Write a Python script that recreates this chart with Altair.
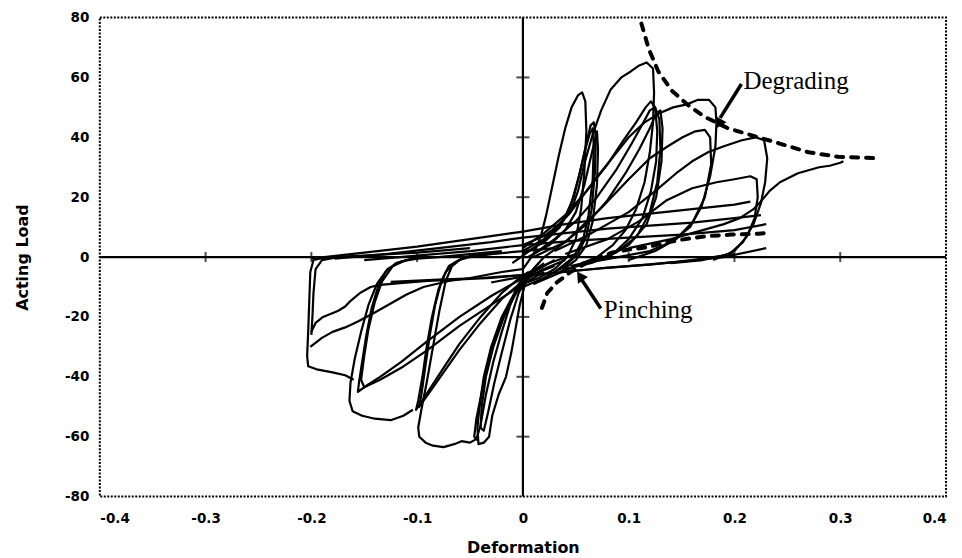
import altair as alt
import pandas as pd

x_ticks = [-0.4, -0.3, -0.2, -0.1, 0.0, 0.1, 0.2, 0.3, 0.4]
y_ticks = [-80, -60, -40, -20, 0, 20, 40, 60, 80]
x_minor = [-0.3, -0.2, -0.1, 0.1, 0.2, 0.3]
y_minor = [-60, -40, -20, 20, 40, 60]

# ---- positive-side loops (deformation, load) ----
p1 = [(0.0, -4), (0.01, 1), (0.017, 7), (0.022, 14), (0.028, 24), (0.034, 34), (0.04, 43), (0.046, 50),
      (0.052, 54), (0.056, 55), (0.059, 52), (0.06, 42), (0.058, 28), (0.055, 16), (0.05, 6), (0.042, 0),
      (0.03, -4), (0.015, -7), (0.0, -9)]
p2a = [(-0.01, -2), (0.01, 3), (0.025, 7), (0.038, 12), (0.048, 20), (0.055, 30), (0.06, 38), (0.064, 44),
       (0.067, 45), (0.069, 40), (0.068, 28), (0.065, 16), (0.06, 7), (0.052, 1), (0.04, -3), (0.02, -7), (0.0, -10)]
p2b = [(0.0, 1), (0.02, 5), (0.035, 10), (0.045, 17), (0.053, 27), (0.059, 36), (0.063, 41), (0.066, 43),
       (0.067, 37), (0.066, 26), (0.062, 14), (0.057, 6), (0.048, 0), (0.03, -5), (0.01, -9)]
p2c = [(0.005, 0), (0.025, 4), (0.04, 9), (0.05, 15), (0.058, 24), (0.064, 33), (0.068, 39), (0.07, 42),
       (0.071, 36), (0.07, 24), (0.066, 12), (0.06, 4), (0.05, -1), (0.035, -5)]
p3 = [(0.0, 4), (0.02, 7), (0.035, 11), (0.045, 15), (0.052, 22), (0.058, 31), (0.066, 41), (0.074, 49),
      (0.083, 56), (0.093, 60), (0.102, 62), (0.11, 64), (0.117, 65), (0.123, 63), (0.124, 55), (0.123, 45),
      (0.12, 35), (0.115, 25), (0.107, 16), (0.097, 9), (0.085, 4), (0.07, 0), (0.05, -3), (0.03, -6), (0.01, -9)]
p4a = [(0.0, 3), (0.02, 8), (0.04, 14), (0.06, 22), (0.08, 31), (0.095, 39), (0.107, 45), (0.116, 50),
       (0.121, 52), (0.125, 50), (0.127, 42), (0.126, 32), (0.121, 22), (0.113, 13), (0.1, 6), (0.085, 1),
       (0.065, -2), (0.04, -4)]
p4b = [(0.01, 1), (0.03, 6), (0.05, 12), (0.07, 20), (0.088, 29), (0.103, 38), (0.114, 45), (0.12, 49),
       (0.125, 50), (0.129, 46), (0.13, 36), (0.127, 25), (0.12, 15), (0.108, 7), (0.09, 2), (0.07, -1), (0.045, -3)]
p4c = [(0.02, 0), (0.04, 5), (0.06, 11), (0.08, 19), (0.097, 28), (0.11, 36), (0.12, 43), (0.126, 48),
       (0.13, 49), (0.132, 43), (0.131, 32), (0.126, 20), (0.117, 11), (0.1, 4), (0.08, 0), (0.055, -2)]
p5 = [(0.0, 2), (0.02, 6), (0.045, 15), (0.073, 28), (0.1, 40), (0.115, 45), (0.129, 48), (0.142, 50),
      (0.155, 51), (0.165, 52.5), (0.176, 52.5), (0.182, 50), (0.183, 45), (0.182, 37), (0.177, 27),
      (0.169, 17), (0.158, 10), (0.14, 5), (0.12, 2), (0.09, 0), (0.06, -2)]
p6 = [(0.01, 0), (0.04, 5), (0.073, 16), (0.1, 26), (0.12, 33), (0.137, 37), (0.151, 40), (0.163, 42),
      (0.172, 42.5), (0.177, 40), (0.178, 31), (0.172, 20), (0.161, 12), (0.145, 6), (0.125, 2), (0.1, -1)]
p7 = [(0.03, 2), (0.06, 7), (0.1, 15), (0.125, 22), (0.145, 28), (0.16, 32), (0.175, 35), (0.19, 37),
      (0.207, 39), (0.22, 40), (0.228, 39), (0.231, 33), (0.229, 25), (0.225, 18), (0.218, 11), (0.208, 5),
      (0.195, 1), (0.17, -1), (0.14, -2)]
p8 = [(0.04, 1), (0.08, 6), (0.11, 12), (0.136, 19), (0.16, 23), (0.183, 25), (0.2, 26), (0.215, 27),
      (0.221, 26), (0.222, 20), (0.219, 13), (0.212, 7), (0.2, 2), (0.18, -1)]
p9 = [(0.1, 3), (0.14, 6), (0.17, 9), (0.19, 11), (0.205, 13), (0.218, 16), (0.226, 19), (0.233, 22),
      (0.243, 25), (0.26, 28), (0.28, 30), (0.29, 30.5), (0.3, 31.5), (0.303, 32)]

# ---- pinched branches crossing the origin ----
u1 = [(-0.2, -0.5), (-0.15, 1.5), (-0.1, 3.5), (-0.05, 6), (0.0, 8.5), (0.04, 11), (0.08, 13),
      (0.12, 14.5), (0.16, 16), (0.2, 17.5), (0.215, 18.5)]
u2 = [(-0.178, -0.5), (-0.13, 1), (-0.08, 3), (-0.03, 5), (0.0, 6.5), (0.04, 8), (0.08, 9.5),
      (0.12, 10.5), (0.16, 11.5), (0.2, 13), (0.225, 14)]
u3 = [(-0.15, -1), (-0.1, 0.5), (-0.05, 2), (0.0, 4), (0.05, 5.5), (0.1, 6.5), (0.15, 7.5), (0.2, 9), (0.23, 11)]
d1 = [(0.2, 1), (0.16, -1), (0.12, -2.5), (0.08, -3.5), (0.04, -5), (0.0, -6), (-0.04, -7),
      (-0.08, -7.5), (-0.125, -8.3)]
d2 = [(0.23, 3), (0.19, 0), (0.15, -1.5), (0.1, -3), (0.05, -4.5), (0.0, -6.5), (-0.03, -8.5)]

# ---- negative-side loops ----
n1a = [(0.02, -2), (0.005, -6), (-0.008, -12), (-0.02, -20), (-0.03, -30), (-0.037, -40), (-0.041, -50),
       (-0.043, -57), (-0.042, -62.5), (-0.037, -62), (-0.032, -60), (-0.029, -53), (-0.023, -46),
       (-0.016, -40), (-0.011, -32), (-0.007, -24), (-0.003, -16), (0.002, -9), (0.01, -4), (0.02, 0)]
n1b = [(0.03, -1), (0.01, -5), (-0.005, -11), (-0.018, -20), (-0.028, -30), (-0.035, -40), (-0.039, -50),
       (-0.04, -57), (-0.037, -58), (-0.033, -52), (-0.027, -42), (-0.02, -32), (-0.012, -21), (-0.004, -12),
       (0.005, -6), (0.015, -2)]
n1c = [(0.02, -4), (0.0, -8), (-0.015, -17), (-0.027, -28), (-0.035, -38), (-0.04, -47), (-0.044, -54),
       (-0.046, -60), (-0.044, -61), (-0.04, -56), (-0.035, -46), (-0.028, -35), (-0.02, -25), (-0.012, -16),
       (-0.004, -9), (0.005, -5)]
n2o = [(0.03, 3), (0.0, 2), (-0.03, 1), (-0.05, 0), (-0.06, -1), (-0.067, -3), (-0.073, -8), (-0.079, -18),
       (-0.085, -30), (-0.091, -42), (-0.096, -51), (-0.099, -57), (-0.098, -60), (-0.092, -62), (-0.085, -63),
       (-0.075, -63.5), (-0.065, -62.5), (-0.058, -61.5), (-0.05, -62), (-0.045, -61)]
n2i = [(0.05, 1), (0.025, -2), (0.0, -6), (-0.02, -12), (-0.04, -20), (-0.06, -29), (-0.075, -37),
       (-0.088, -44), (-0.097, -49), (-0.101, -51), (-0.099, -48), (-0.095, -40), (-0.091, -30), (-0.086, -20),
       (-0.08, -11), (-0.073, -5), (-0.065, -2), (-0.055, 0), (-0.04, 1), (-0.02, 1.5)]
n2j = [(0.04, -1), (0.02, -4), (0.0, -8), (-0.02, -14), (-0.04, -22), (-0.06, -31), (-0.076, -39),
       (-0.09, -46), (-0.098, -50), (-0.096, -46), (-0.092, -36), (-0.088, -26), (-0.083, -16), (-0.077, -8),
       (-0.07, -3), (-0.06, -1)]
n3o = [(-0.02, 2), (-0.05, 1), (-0.08, 0), (-0.1, -0.5), (-0.115, -1.5), (-0.128, -4), (-0.138, -9),
       (-0.146, -16), (-0.153, -25), (-0.159, -34), (-0.163, -42), (-0.164, -48), (-0.161, -51.5),
       (-0.152, -53), (-0.14, -54), (-0.125, -54.5), (-0.113, -53), (-0.104, -51)]
n3i = [(0.03, -3), (0.0, -7), (-0.03, -13), (-0.06, -20), (-0.09, -28), (-0.115, -35), (-0.135, -40),
       (-0.148, -43), (-0.156, -45), (-0.155, -42), (-0.152, -35), (-0.148, -26), (-0.143, -17),
       (-0.137, -10), (-0.13, -5), (-0.12, -2), (-0.1, 0)]
n3j = [(0.02, -5), (0.0, -9), (-0.03, -16), (-0.06, -23), (-0.09, -31), (-0.115, -37), (-0.135, -41),
       (-0.15, -43.5), (-0.153, -41), (-0.15, -33), (-0.146, -24), (-0.14, -15), (-0.133, -8), (-0.123, -3),
       (-0.11, -1)]
n4 = [(-0.05, 3), (-0.1, 1.5), (-0.15, 0.5), (-0.185, 0), (-0.198, -1), (-0.201, -5), (-0.202, -15),
      (-0.203, -25), (-0.204, -33), (-0.203, -36.5), (-0.195, -37.5), (-0.18, -38.5), (-0.168, -39.5),
      (-0.16, -41)]
n4b = [(-0.175, 0), (-0.19, -1), (-0.196, -4), (-0.198, -12), (-0.199, -20), (-0.2, -26)]
w1 = [(-0.2, -25), (-0.196, -22), (-0.189, -20), (-0.175, -18), (-0.168, -16.5), (-0.164, -15),
      (-0.154, -12), (-0.144, -10), (-0.135, -9.3), (-0.116, -8.7), (-0.09, -8), (-0.06, -7.5),
      (-0.03, -7), (0.0, -6)]
w2 = [(-0.201, -30), (-0.19, -27), (-0.18, -25), (-0.168, -23.5), (-0.156, -21.5), (-0.14, -18.5),
      (-0.125, -15.5), (-0.11, -12.5), (-0.094, -10), (-0.07, -8), (-0.05, -7), (-0.02, -5), (0.0, -4)]

# ---- dashed envelopes ----
degrading_env = [(0.112, 78), (0.119, 69.5), (0.128, 62), (0.141, 55.5), (0.157, 50.5), (0.171, 47),
                 (0.194, 43), (0.218, 40.5), (0.242, 38), (0.27, 35), (0.298, 33.5), (0.336, 33)]
pinching_env = [(0.018, -17), (0.023, -12), (0.032, -8.5), (0.045, -5), (0.06, -2), (0.084, 1.5),
                (0.1, 2.5), (0.116, 3.2), (0.135, 4.8), (0.15, 5.8), (0.163, 6.5), (0.175, 7),
                (0.197, 7.5), (0.223, 7.8), (0.23, 8)]

# ---- annotations ----
labels_text = ["Degrading", "Pinching"]
labels_x = [0.2085, 0.0765]
labels_y = [56.2, -20.2]
arrow_tail = [(0.2066, 57.8), (0.0736, -17.2)]
arrow_head = [(0.1865, 46.5), (0.0555, -7.5)]
arrow_tip = [(0.185, 44.5), (0.054, -6.3)]
arrow_angle = [210, 326]

curves = {
    "p1": p1, "p2a": p2a, "p2b": p2b, "p2c": p2c, "p3": p3, "p4a": p4a, "p4b": p4b, "p4c": p4c,
    "p5": p5, "p6": p6, "p7": p7, "p8": p8, "p9": p9, "u1": u1, "u2": u2, "u3": u3, "d1": d1, "d2": d2,
    "n1a": n1a, "n1b": n1b, "n1c": n1c, "n2o": n2o, "n2i": n2i, "n2j": n2j, "n3o": n3o, "n3i": n3i,
    "n3j": n3j, "n4": n4, "n4b": n4b, "w1": w1, "w2": w2,
}


def to_frame(d):
    rows = []
    for name, pts in d.items():
        for i, (x, y) in enumerate(pts):
            rows.append({"series": name, "i": i, "x": x, "y": y})
    return pd.DataFrame(rows)


df_curves = to_frame(curves)
df_dash = to_frame({"degrading": degrading_env, "pinching": pinching_env})
df_arrow = to_frame({"a%d" % k: [arrow_tail[k], arrow_head[k]] for k in range(2)})
df_tip = pd.DataFrame({"x": [p[0] for p in arrow_tip], "y": [p[1] for p in arrow_tip], "angle": arrow_angle})
df_text = pd.DataFrame({"label": labels_text, "x": labels_x, "y": labels_y})

xscale = alt.Scale(domain=[-0.4, 0.4], nice=False, zero=False)
yscale = alt.Scale(domain=[-80, 80], nice=False, zero=False)

x_axis = alt.Axis(values=x_ticks, title="Deformation",
                  labelExpr="datum.value == 0 ? '0' : (datum.value < 0 ? '-' : '') + format(abs(datum.value), '.1f')",
                  labelPadding=15, titlePadding=15)
y_axis = alt.Axis(values=y_ticks, title="Acting Load",
                  labelExpr="(datum.value < 0 ? '-' : '') + format(abs(datum.value), 'd')",
                  labelPadding=11, titlePadding=34)

base_x = alt.X("x:Q", scale=xscale, axis=x_axis)
base_y = alt.Y("y:Q", scale=yscale, axis=y_axis)

lines = alt.Chart(df_curves).mark_line(color="black", strokeWidth=2.2, strokeJoin="round").encode(
    x=base_x, y=base_y, detail="series:N", order="i:Q")

dashes = alt.Chart(df_dash).mark_line(color="black", strokeWidth=4, strokeDash=[7, 8], strokeCap="round").encode(
    x=alt.X("x:Q", scale=xscale), y=alt.Y("y:Q", scale=yscale), detail="series:N", order="i:Q")

zero_h = alt.Chart(pd.DataFrame({"x": [-0.4], "x2": [0.4], "y": [0]})).mark_rule(color="black", strokeWidth=2.2).encode(
    x=alt.X("x:Q", scale=xscale), x2="x2:Q", y=alt.Y("y:Q", scale=yscale))
zero_v = alt.Chart(pd.DataFrame({"x": [0], "y": [-80], "y2": [80]})).mark_rule(color="black", strokeWidth=2.2).encode(
    x=alt.X("x:Q", scale=xscale), y=alt.Y("y:Q", scale=yscale), y2="y2:Q")

ticks_h = alt.Chart(pd.DataFrame({"x": x_minor, "y": [0] * len(x_minor)})).mark_tick(
    color="black", orient="vertical", size=10, thickness=2).encode(
    x=alt.X("x:Q", scale=xscale), y=alt.Y("y:Q", scale=yscale))
ticks_v = alt.Chart(pd.DataFrame({"x": [0] * len(y_minor), "y": y_minor})).mark_tick(
    color="black", orient="horizontal", size=13, thickness=2).encode(
    x=alt.X("x:Q", scale=xscale), y=alt.Y("y:Q", scale=yscale))

arrows = alt.Chart(df_arrow).mark_line(color="black", strokeWidth=3.5).encode(
    x=alt.X("x:Q", scale=xscale), y=alt.Y("y:Q", scale=yscale), detail="series:N", order="i:Q")
tips = alt.Chart(df_tip).mark_point(shape="triangle-up", filled=True, color="black", opacity=1, size=150).encode(
    x=alt.X("x:Q", scale=xscale), y=alt.Y("y:Q", scale=yscale), angle=alt.Angle("angle:Q", scale=None))

texts = alt.Chart(df_text).mark_text(font="Liberation Serif", fontSize=25, align="left",
                                     baseline="alphabetic", color="black").encode(
    x=alt.X("x:Q", scale=xscale), y=alt.Y("y:Q", scale=yscale), text="label:N")

chart = alt.layer(zero_h, zero_v, ticks_h, ticks_v, lines, dashes, arrows, tips, texts).properties(
    width=848, height=480,
    autosize=alt.AutoSizeParams(type="none"),
    padding={"left": 92, "top": 9, "right": 8, "bottom": 60},
).configure_view(
    stroke="black", strokeWidth=2, strokeDash=[2, 1.5]
).configure_axis(
    grid=False, domain=False, ticks=False, tickSize=0,
    labelFont="DejaVu Sans", labelFontWeight="bold", labelFontSize=13.5, labelColor="black",
    titleFont="DejaVu Sans", titleFontWeight="bold", titleFontSize=16, titleColor="black",
)

chart.save("out.html", embed_options={"renderer": "svg", "actions": False})
